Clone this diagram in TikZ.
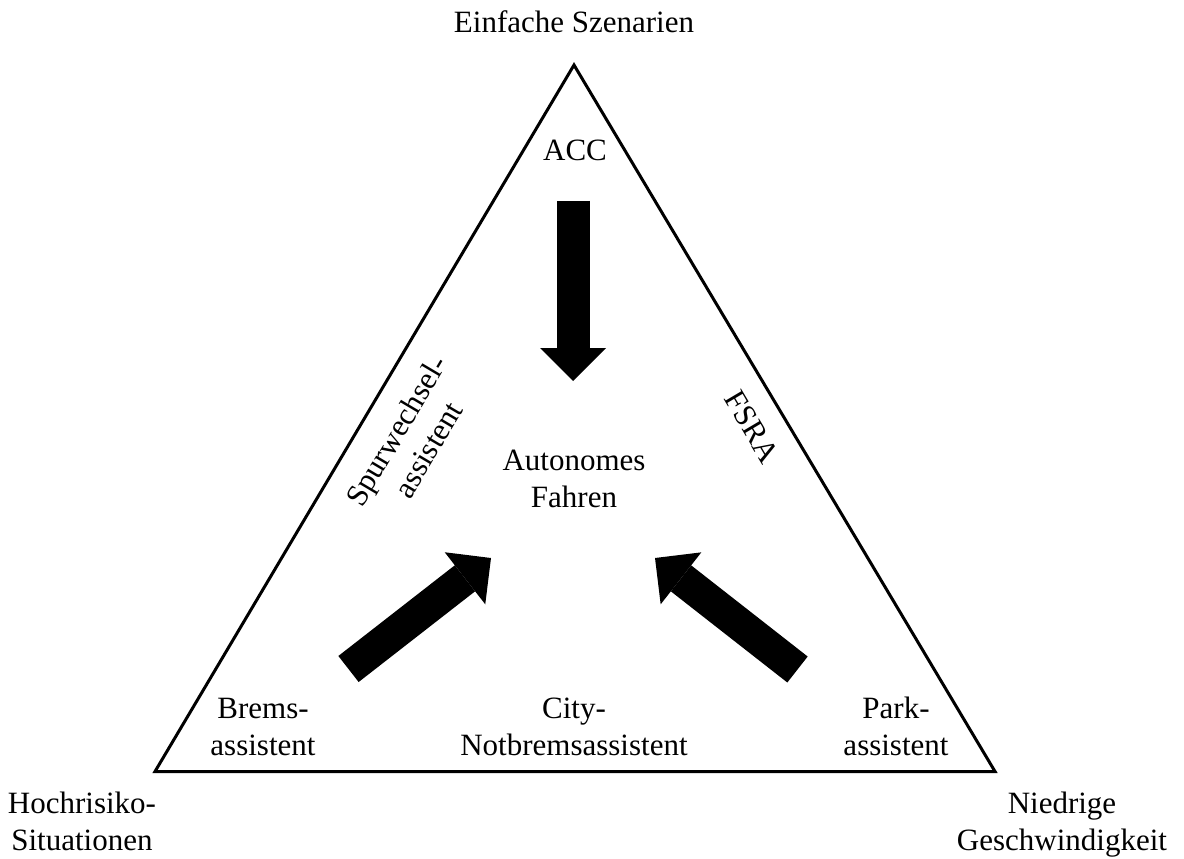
\documentclass[tikz,border=0pt]{standalone}
\usepackage{fontspec}
\setmainfont{Liberation Serif}
\usetikzlibrary{arrows.meta}
\begin{document}
\begin{tikzpicture}[x=0.75pt,y=-0.75pt,
  lbl/.style={align=center, inner sep=0pt, font=\fontsize{23.25pt}{27.75pt}\selectfont, anchor=base},
  blockarrow/.style={line width=24.75pt, -{Triangle[length=24.75pt,width=49.5pt,line width=0pt]}},
  edge/.style={line width=2.25pt, line join=miter}]
\useasboundingbox (0,0) rectangle (1184,859);

% outer triangle
\coordinate (apex) at (574,65);
\coordinate (bl) at (155,771.5);
\coordinate (br) at (995,771.5);
\draw[edge] (apex) -- (bl) -- (br) -- cycle;

% labels (for two-line labels the base anchor sits on the last line)
\node[lbl] (top) at (574,33) {Einfache Szenarien};
\node[lbl] (acc) at (575,161) {ACC};
\node[lbl] (af) at (574,507) {Autonomes\\Fahren};
\node[lbl] (brems) at (263,755) {Brems-\\assistent};
\node[lbl] (city) at (574,755) {City-\\Notbremsassistent};
\node[lbl] (park) at (896,755) {Park-\\assistent};
\node[lbl] (hoch) at (82,850) {Hochrisiko-\\Situationen};
\node[lbl] (nied) at (1062,850) {Niedrige\\Geschwindigkeit};
\node[lbl, anchor=center, rotate=59.3] (spur) at (412,440) {Spurwechsel-\\assistent};
\node[lbl, anchor=center, rotate=-59.3] (fsra) at (752,427) {FSRA};

% block arrows towards the centre
\coordinate (accTail) at (573,201);
\coordinate (accTip) at (573,381);
\coordinate (bremsTail) at (348.5,669);
\coordinate (bremsTip) at (491,558);
\coordinate (parkTail) at (797.5,669.5);
\coordinate (parkTip) at (655,558);
\draw[blockarrow] (accTail) -- (accTip);
\draw[blockarrow] (bremsTail) -- (bremsTip);
\draw[blockarrow] (parkTail) -- (parkTip);
\end{tikzpicture}
\end{document}
